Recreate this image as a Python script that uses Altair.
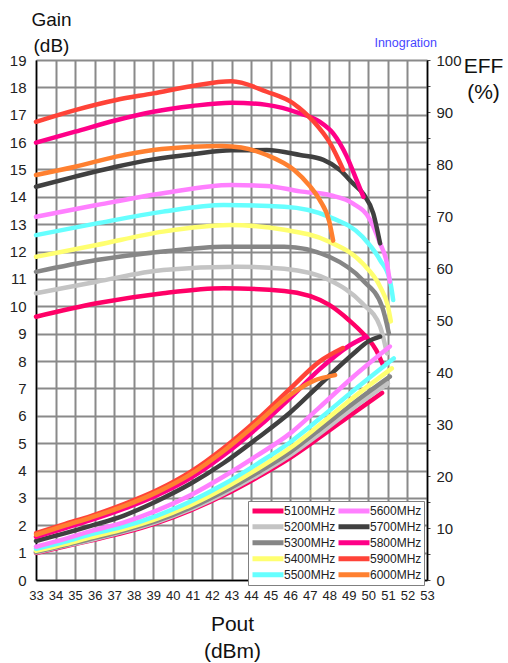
import altair as alt
import pandas as pd

FREQS = ["5100MHz", "5200MHz", "5300MHz", "5400MHz", "5500MHz",
         "5600MHz", "5700MHz", "5800MHz", "5900MHz", "6000MHz"]
COLORS = ["#ff0066", "#c4c4c4", "#868686", "#ffff70", "#66ffff",
          "#ff80ff", "#404040", "#ff0088", "#ff4338", "#ff8030"]

X_TICKS = list(range(33, 54))
GAIN_TICKS = list(range(0, 20))
EFF_TICKS = list(range(0, 101, 5))

# ---- Gain (dB), left axis ----
GAIN_X_5100 = [33, 36.1, 39.5, 42.6, 45.7, 48.0, 49.0, 49.8, 50.4, 50.75]
GAIN_Y_5100 = [9.62, 10.11, 10.48, 10.66, 10.56, 10.05, 9.5, 8.95, 8.4, 7.85]
GAIN_X_5200 = [33, 36.1, 39.5, 43.3, 45.7, 48.0, 49.7, 50.6, 50.95]
GAIN_Y_5200 = [10.48, 10.9, 11.33, 11.45, 11.37, 10.96, 10.1, 9.26, 8.28]
GAIN_X_5300 = [33, 36.1, 39.5, 42.6, 45.7, 48.0, 49.7, 50.7, 51.05]
GAIN_Y_5300 = [11.26, 11.69, 12.0, 12.18, 12.18, 11.81, 10.96, 9.99, 9.01]
GAIN_X_5400 = [33, 36.1, 39.5, 42.9, 45.7, 48.0, 49.7, 50.6, 51.0, 51.15]
GAIN_Y_5400 = [11.81, 12.24, 12.73, 12.97, 12.8, 12.36, 11.57, 10.72, 10.0, 9.45]
GAIN_X_5500 = [33, 36.1, 39.5, 42.6, 45.7, 48.0, 49.7, 50.6, 51.1, 51.27]
GAIN_Y_5500 = [12.6, 13.03, 13.46, 13.7, 13.64, 13.27, 12.54, 11.69, 10.96, 10.23]
GAIN_X_5600 = [33, 36.1, 39.5, 43.0, 44.8, 46.5, 48.1, 49.2, 50.1, 50.6, 50.95, 51.1]
GAIN_Y_5600 = [13.27, 13.7, 14.13, 14.43, 14.4, 14.2, 14.05, 13.76, 13.15, 12.3, 11.57, 10.9]
GAIN_X_5700 = [33, 35, 37.1, 39, 41, 43, 44.8, 46.5, 47.7, 48.55, 49.2, 49.75, 50.25, 50.6]
GAIN_Y_5700 = [14.37, 14.74, 15.1, 15.37, 15.56, 15.7, 15.71, 15.53, 15.35, 14.98, 14.5, 14.1, 13.4, 12.3]
GAIN_X_5800 = [33, 35, 37.1, 39, 41, 43, 44.8, 46.5, 47.5, 48.2, 48.9, 49.4, 49.75]
GAIN_Y_5800 = [15.98, 16.38, 16.8, 17.11, 17.32, 17.44, 17.36, 17.05, 16.75, 16.32, 15.47, 14.61, 14.0]
GAIN_X_5900 = [33, 35, 37.1, 39, 41, 43, 44.8, 46.15, 47.2, 48.05, 48.72]
GAIN_Y_5900 = [16.74, 17.17, 17.54, 17.78, 18.05, 18.22, 17.84, 17.42, 16.75, 15.95, 14.98]
GAIN_X_6000 = [33, 35, 37.1, 39, 41, 42.5, 43.5, 44.8, 46.2, 47.0, 47.5, 48.0, 48.2]
GAIN_Y_6000 = [14.8, 15.1, 15.47, 15.71, 15.83, 15.86, 15.8, 15.53, 14.98, 14.4, 13.9, 13.1, 12.4]

# ---- Efficiency (%), right axis ----
EFF_X_COMMON = [33, 34.5, 35.8, 37.5, 39.2, 40.9, 42.6, 44.3, 46.0, 47.5, 49.2]
EFF_X_5100 = EFF_X_COMMON + [50.7]
EFF_Y_5100 = [5.2, 6.5, 7.6, 9.1, 11.0, 13.4, 16.3, 19.7, 23.5, 27.4, 32.0, 36.0]
EFF_X_5200 = EFF_X_COMMON + [51.0]
EFF_Y_5200 = [5.3, 6.6, 7.7, 9.3, 11.2, 13.6, 16.6, 20.1, 24.0, 28.1, 33.0, 37.8]
EFF_X_5300 = EFF_X_COMMON + [51.1]
EFF_Y_5300 = [5.4, 6.7, 7.9, 9.5, 11.4, 13.9, 17.0, 20.6, 24.6, 28.9, 33.9, 39.1]
EFF_X_5400 = EFF_X_COMMON + [51.2]
EFF_Y_5400 = [5.6, 6.9, 8.2, 9.8, 11.8, 14.4, 17.6, 21.3, 25.4, 29.8, 35.0, 40.7]
EFF_X_5500 = EFF_X_COMMON + [51.3]
EFF_Y_5500 = [6.0, 7.4, 8.8, 10.3, 12.4, 15.1, 18.4, 22.3, 26.5, 31.0, 36.3, 42.6]
EFF_X_5600 = EFF_X_COMMON + [51.1]
EFF_Y_5600 = [6.4, 7.9, 9.4, 11.1, 13.4, 16.3, 19.9, 23.9, 28.2, 33.2, 39.0, 44.9]
EFF_X_5700 = EFF_X_COMMON + [50.0, 50.6]
EFF_Y_5700 = [7.5, 9.0, 10.4, 12.4, 15.2, 18.5, 22.5, 27.2, 32.2, 37.5, 43.4, 45.9, 46.8]
EFF_X_5800 = [33, 34.5, 35.8, 37.5, 39.2, 40.9, 42.6, 44.3, 46.0, 47.5, 49.0, 49.9]
EFF_Y_5800 = [8.3, 10.0, 11.5, 13.7, 16.3, 19.6, 24.0, 29.2, 35.0, 40.5, 45.0, 46.8]
EFF_X_5900 = [33, 34.5, 35.8, 37.5, 39.2, 40.9, 42.6, 44.3, 46.0, 47.5, 48.7]
EFF_Y_5900 = [9.0, 10.8, 12.3, 14.6, 17.3, 20.8, 25.4, 30.8, 36.8, 42.0, 44.6]
EFF_X_6000 = [33, 34.5, 35.8, 37.5, 39.2, 40.9, 42.6, 44.3, 46.0, 47.2, 48.3]
EFF_Y_6000 = [8.7, 10.5, 12.0, 14.2, 16.9, 20.3, 24.8, 30.1, 35.6, 38.3, 39.4]

GAIN_X = [GAIN_X_5100, GAIN_X_5200, GAIN_X_5300, GAIN_X_5400, GAIN_X_5500,
          GAIN_X_5600, GAIN_X_5700, GAIN_X_5800, GAIN_X_5900, GAIN_X_6000]
GAIN_Y = [GAIN_Y_5100, GAIN_Y_5200, GAIN_Y_5300, GAIN_Y_5400, GAIN_Y_5500,
          GAIN_Y_5600, GAIN_Y_5700, GAIN_Y_5800, GAIN_Y_5900, GAIN_Y_6000]
EFF_X = [EFF_X_5100, EFF_X_5200, EFF_X_5300, EFF_X_5400, EFF_X_5500,
         EFF_X_5600, EFF_X_5700, EFF_X_5800, EFF_X_5900, EFF_X_6000]
EFF_Y = [EFF_Y_5100, EFF_Y_5200, EFF_Y_5300, EFF_Y_5400, EFF_Y_5500,
         EFF_Y_5600, EFF_Y_5700, EFF_Y_5800, EFF_Y_5900, EFF_Y_6000]

gain_rows, eff_rows = [], []
for k, f in enumerate(FREQS):
    for i, (xv, yv) in enumerate(zip(GAIN_X[k], GAIN_Y[k])):
        gain_rows.append({"freq": f, "i": i, "pout": xv, "gain": yv})
    for i, (xv, yv) in enumerate(zip(EFF_X[k], EFF_Y[k])):
        eff_rows.append({"freq": f, "i": i, "pout": xv, "eff": yv})
gain_df = pd.DataFrame(gain_rows)
eff_df = pd.DataFrame(eff_rows)

FONT = "Liberation Sans"

color = alt.Color(
    "freq:N",
    scale=alt.Scale(domain=FREQS, range=COLORS),
    legend=alt.Legend(
        title=None, orient="none", legendX=212, legendY=441, columns=2,
        direction="vertical", clipHeight=15.7,
        symbolType="M-1,0H5.2", symbolStrokeWidth=5, symbolSize=100,
        labelFontSize=12, labelFont=FONT, labelColor="#222222",
        rowPadding=0, columnPadding=-8, padding=2, labelOffset=19,
        strokeColor="#808080", fillColor="white", labelLimit=80,
    ),
)

x_enc = alt.X(
    "pout:Q",
    scale=alt.Scale(domain=[33, 53], nice=False, zero=False),
    axis=alt.Axis(
        values=X_TICKS, format="d", title=["Pout", "(dBm)"],
        titleAngle=0, titleX=196, titleY=50, titleAlign="center",
        titleBaseline="alphabetic", titleFontSize=21, titleLineHeight=27,
        titleFontWeight="normal", titleFont=FONT, titleColor="#111111",
        labelFontSize=13, labelFont=FONT, labelColor="#222222",
        labelPadding=9, tickSize=0, grid=True, gridColor="#8a8a8a",
        gridWidth=2, domainColor="black", domainWidth=1.5,
        labelFlush=False, labelOverlap=False,
    ),
)

gain_layer = alt.Chart(gain_df).mark_line(
    interpolate="monotone", strokeWidth=4.5, strokeCap="round"
).encode(
    x=x_enc,
    y=alt.Y(
        "gain:Q",
        scale=alt.Scale(domain=[0, 19], nice=False, zero=False),
        axis=alt.Axis(
            values=GAIN_TICKS, format="d", title=["Gain", "(dB)"],
            titleAngle=0, titleX=15, titleY=-35, titleAlign="center",
            titleBaseline="alphabetic", titleFontSize=19, titleLineHeight=26,
            titleFontWeight="normal", titleFont=FONT, titleColor="#111111",
            labelFontSize=15, labelFont=FONT, labelColor="#222222",
            labelPadding=10, tickSize=0, grid=True, gridColor="#8a8a8a",
            gridWidth=2, domainColor="black", domainWidth=1.5,
            labelOverlap=False, labelFlush=False,
        ),
    ),
    color=color,
    order="i:Q",
)

eff_layer = alt.Chart(eff_df).mark_line(
    interpolate="monotone", strokeWidth=4.5, strokeCap="round"
).encode(
    x=x_enc,
    y=alt.Y(
        "eff:Q",
        scale=alt.Scale(domain=[0, 100], nice=False, zero=False),
        axis=alt.Axis(
            orient="right", values=EFF_TICKS,
            labelExpr="datum.value % 10 == 0 ? datum.label : ''",
            title=["EFF", "(%)"],
            titleAngle=0, titleX=56, titleY=12, titleAlign="center",
            titleBaseline="alphabetic", titleFontSize=21, titleLineHeight=26,
            titleFontWeight="normal", titleFont=FONT, titleColor="#111111",
            labelFontSize=15, labelFont=FONT, labelColor="#222222",
            labelPadding=6, tickSize=3, tickColor="#444444", grid=False,
            domainColor="black", domainWidth=1.5,
            labelOverlap=False, labelFlush=False,
        ),
    ),
    color=color,
    order="i:Q",
)

chart = (
    alt.layer(gain_layer, eff_layer)
    .resolve_scale(y="independent")
    .properties(
        width=391, height=520,
        autosize=alt.AutoSizeParams(type="none"),
        padding={"left": 36, "top": 60, "right": 81, "bottom": 83},
        title=alt.TitleParams(
            text="Innogration", anchor="end", frame="group", color="#4646ff",
            fontSize=12.5, font=FONT, fontWeight="normal", offset=13, dx=10,
            dy=62, baseline="alphabetic",
        ),
    )
    .configure_view(stroke="black", strokeWidth=1.5)
    .configure(background="white")
)

chart.save("out.html", embed_options={"renderer": "svg", "actions": False})
